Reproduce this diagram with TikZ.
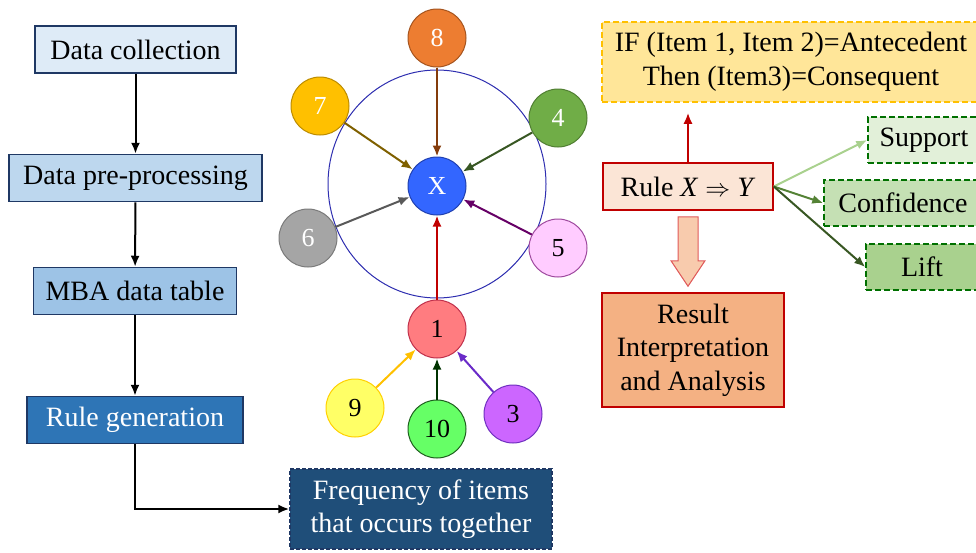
\documentclass[tikz,border=0pt]{standalone}
\usepackage{fontspec}
\setmainfont{Liberation Serif}
\usetikzlibrary{arrows.meta, positioning, calc}

\definecolor{navy}{HTML}{1F3864}
\definecolor{blue1}{HTML}{DEEBF7}
\definecolor{blue2}{HTML}{BDD7EE}
\definecolor{blue3}{HTML}{9DC3E6}
\definecolor{blue4}{HTML}{2E75B6}
\definecolor{blue5}{HTML}{1F4E79}
\definecolor{darkred}{HTML}{C00000}
\definecolor{peach}{HTML}{FBE5D6}
\definecolor{salmon}{HTML}{F4B183}
\definecolor{lightsalmon}{HTML}{F8CBAD}
\definecolor{salmonline}{HTML}{E05A5A}
\definecolor{gold}{HTML}{FFC000}
\definecolor{cream}{HTML}{FFE699}
\definecolor{green1}{HTML}{E2F0D9}
\definecolor{green2}{HTML}{C5E0B4}
\definecolor{green3}{HTML}{A9D18E}
\definecolor{green4}{HTML}{548235}
\definecolor{green5}{HTML}{385723}
\definecolor{boxgreen}{HTML}{007000}
% item colours
\definecolor{xfill}{HTML}{3366FF}    \definecolor{xline}{HTML}{2040B0}
\definecolor{ringline}{HTML}{2E2EB0}
\definecolor{fill8}{HTML}{ED7D31}    \definecolor{line8}{HTML}{A5541E}
\definecolor{fill7}{HTML}{FFC000}    \definecolor{line7}{HTML}{BC8C00}
\definecolor{fill4}{HTML}{70AD47}    \definecolor{line4}{HTML}{507E32}
\definecolor{fill6}{HTML}{A5A5A5}    \definecolor{line6}{HTML}{7A7A7A}
\definecolor{fill5}{HTML}{FFCCFF}    \definecolor{line5}{HTML}{9E489E}
\definecolor{fill1}{HTML}{FF7C80}    \definecolor{line1}{HTML}{C0304B}
\definecolor{fill9}{HTML}{FFFF66}    \definecolor{line9}{HTML}{FFD000}
\definecolor{fill10}{HTML}{66FF66}   \definecolor{line10}{HTML}{1E5E1E}
\definecolor{fill3}{HTML}{CC66FF}    \definecolor{line3}{HTML}{7030C0}
% link colours
\definecolor{link8}{HTML}{843C0C}
\definecolor{link7}{HTML}{7F6000}
\definecolor{link4}{HTML}{385723}
\definecolor{link6}{HTML}{595959}
\definecolor{link5}{HTML}{660066}
\definecolor{link10}{HTML}{003300}
\definecolor{link3}{HTML}{6A2BC8}

\begin{document}
\begin{tikzpicture}[
  x=1pt, y=-1pt,
  every node/.style={font=\fontsize{28}{33.5}\selectfont, align=center, inner sep=0pt},
  stepbox/.style={draw=navy, line width=1.5pt, minimum height=47pt},
  item/.style={circle, minimum size=58pt, line width=1pt, font=\fontsize{26}{30}\selectfont},
  dashbox/.style={line width=1.5pt, dash pattern=on 6pt off 3pt},
  arrow/.style={-{Latex[length=11pt,width=9pt]}, line width=2pt},
  link/.style={arrow, draw=#1, fill=#1},
]
\useasboundingbox (0,0) rectangle (976,552);

% Flow on the left
\node[stepbox, fill=blue1, minimum width=201pt] (collect) at (135.5,49.5) {Data collection};
\node[stepbox, fill=blue2, minimum width=253pt] (preproc) at (135.5,178) {Data pre-processing};
\node[stepbox, fill=blue3, minimum width=203pt] (table)   at (135,291) {MBA data table};
\node[stepbox, fill=blue4, minimum width=216pt, text=white] (rulegen) at (135,420) {Rule generation};
\node[dashbox, draw=navy, dash pattern=on 4pt off 2pt, fill=blue5, text=white,
      minimum width=262pt, minimum height=80pt] (freq) at (421,509)
      {Frequency of items\\that occurs together};

\draw[arrow] (collect) -- (preproc);
\draw[arrow] (preproc) -- (table);
\draw[arrow] (table)   -- (rulegen);
\draw[arrow] (rulegen) |- (freq);

% Item circles
\node[item, fill=xfill, draw=xline, text=white] (nX) at (437,186) {X};
\draw[draw=ringline, line width=1pt] (437,184) ellipse [x radius=109, y radius=114];

\node[item, fill=fill8, draw=line8, text=white] (n8)  at (437,38)  {8};
\node[item, fill=fill7, draw=line7, text=white] (n7)  at (320,106) {7};
\node[item, fill=fill4, draw=line4, text=white] (n4)  at (558,118) {4};
\node[item, fill=fill6, draw=line6, text=white] (n6)  at (308,238) {6};
\node[item, fill=fill5, draw=line5] (n5)  at (558,248) {5};
\node[item, fill=fill1, draw=line1] (n1)  at (437,329) {1};
\node[item, fill=fill9, draw=line9] (n9)  at (355,408) {9};
\node[item, fill=fill10, draw=line10] (n10) at (437,429) {10};
\node[item, fill=fill3, draw=line3] (n3)  at (513,414) {3};

\draw[link=link8] (n8) -- (nX);
\draw[link=link7] (n7) -- (nX);
\draw[link=link4] (n4) -- (nX);
\draw[link=link6] (n6) -- (nX);
\draw[link=link5] (n5) -- (nX);
\draw[link=darkred] (n1) -- (nX);
\draw[link=gold] (n9) -- (n1);
\draw[link=link10] (n10) -- (n1);
\draw[link=link3] (n3) -- (n1);

% Rule side
\node[dashbox, draw=gold, fill=cream, minimum width=378pt, minimum height=80pt] (ifbox) at (791,62)
      {IF (Item 1, Item 2)=Antecedent\\Then (Item3)=Consequent};
\node[draw=darkred, line width=1.5pt, fill=peach, minimum width=170pt, minimum height=47pt] (rule) at (688,186.5)
      {Rule \textit{X} $\Rightarrow$ \textit{Y}};
\node[draw=darkred, line width=1.5pt, fill=salmon, minimum width=182pt, minimum height=114pt] (result) at (693,350)
      {Result\\Interpretation\\and Analysis};
\node[dashbox, draw=boxgreen, fill=green1, minimum width=112pt, minimum height=46pt] (support)    at (924,140) {Support};
\node[dashbox, draw=boxgreen, fill=green2, minimum width=158pt, minimum height=46pt] (confidence) at (903,203) {Confidence};
\node[dashbox, draw=boxgreen, fill=green3, minimum width=112pt, minimum height=46pt] (lift)       at (922,267) {Lift};

\draw[link=darkred] (rule.north) -- ($(rule.north |- ifbox.south)+(0,10)$);
\draw[fill=lightsalmon, draw=salmonline, line width=1pt]
  ($(rule.south)+(-10,6)$) -- ++(20,0) -- ++(0,44) -- ++(7,0)
  -- ($(rule.south |- result.north)+(0,-6)$)
  -- ($(rule.south)+(-17,50)$) -- ++(7,0) -- cycle;
\draw[link=green3] (rule.east) -- (support.west);
\draw[link=green4] (rule.east) -- (confidence.west);
\draw[link=green5] (rule.east) -- (lift.west);

\end{tikzpicture}
\end{document}
